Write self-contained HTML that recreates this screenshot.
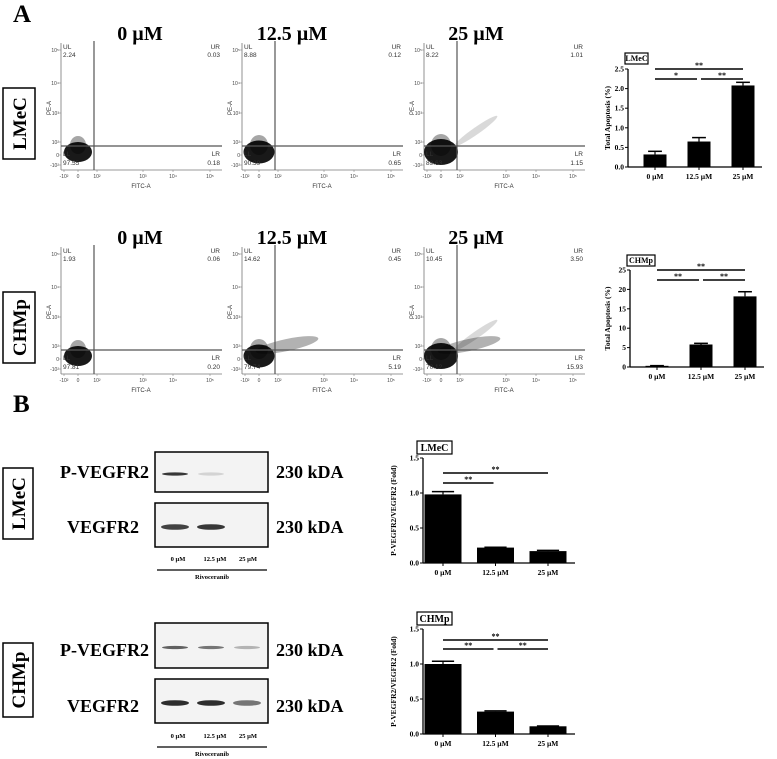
<!DOCTYPE html>
<html><head><meta charset="utf-8"><style>
html,body{margin:0;padding:0;background:#fff;width:777px;height:759px;overflow:hidden}
svg{display:block}
text{font-family:"Liberation Serif",serif}
.sans{font-family:"Liberation Sans",sans-serif}
</style></head><body>
<svg id="fig" width="777" height="759" viewBox="0 0 777 759" xmlns="http://www.w3.org/2000/svg">
<text x="13" y="22" font-size="25" font-weight="bold">A</text>
<text x="13" y="412" font-size="25" font-weight="bold">B</text>
</svg>
<script>
// ---------- data ----------
const concLabels = ["0 µM", "12.5 µM", "25 µM"];
const quadLMeC = [[2.24,0.03,97.55,0.18],[8.88,0.12,90.39,0.65],[8.22,1.01,89.63,1.15]];
const quadCHMp = [[1.93,0.06,97.81,0.20],[14.62,0.45,79.74,5.19],[10.45,3.50,70.12,15.93]];
const apopLMeC = [0.32, 0.65, 2.08];
const apopLMeCErr = [0.08, 0.10, 0.08];
const apopCHMp = [0.3, 5.8, 18.2];
const apopCHMpErr = [0.05, 0.3, 1.2];
const ticksApopLMeC = [0, 0.5, 1.0, 1.5, 2.0, 2.5];
const ticksApopCHMp = [0, 5, 10, 15, 20, 25];
const vegfLMeC = [0.98, 0.22, 0.17];
const vegfLMeCErr = [0.04, 0.005, 0.01];
const vegfCHMp = [1.0, 0.32, 0.11];
const vegfCHMpErr = [0.04, 0.01, 0.005];
const ticksVegf = [0, 0.5, 1.0, 1.5];
const sigApopLMeC = [[0,2,"**"],[0,1,"*"],[1,2,"**"]];
const sigApopCHMp = [[0,2,"**"],[0,1,"**"],[1,2,"**"]];
const sigVegfLMeC = [[0,2,"**"],[0,1,"**"]];
const sigVegfCHMp = [[0,2,"**"],[0,1,"**"],[1,2,"**"]];

const NS = "http://www.w3.org/2000/svg";
const svg = document.getElementById("fig");
function mk(tag, attrs, parent, txt){
  const e = document.createElementNS(NS, tag);
  for (const k in attrs) e.setAttribute(k, attrs[k]);
  if (txt !== undefined) e.textContent = txt;
  (parent||svg).appendChild(e);
  return e;
}

// ---------- flow plots ----------
const plotLefts = [61, 242, 424];
function flowPlot(L, T, q, col, rowName){
  const g = mk("g", {});
  
  
  const w = 161, h = 127;
  mk("line",{x1:L,y1:T,x2:L,y2:T+h,stroke:"#777","stroke-width":0.8},g);
  mk("line",{x1:L,y1:T+h,x2:L+w,y2:T+h,stroke:"#777","stroke-width":0.8},g);
  const yt = [["10⁵",7],["10⁴",40],["10³",70],["10²",99],["0",112],["-10²",122]];
  yt.forEach(t=>{ mk("text",{x:L-2,y:T+t[1]+2,"font-size":5,"text-anchor":"end",fill:"#444",class:"sans"},g,t[0]);
    mk("line",{x1:L-2,y1:T+t[1],x2:L,y2:T+t[1],stroke:"#777","stroke-width":0.5},g);});
  const xt = [["-10²",3],["0",17],["10²",36],["10³",82],["10⁴",112],["10⁵",149]];
  xt.forEach(t=>{ mk("text",{x:L+t[1],y:T+h+8,"font-size":5,"text-anchor":"middle",fill:"#444",class:"sans"},g,t[0]);
    mk("line",{x1:L+t[1],y1:T+h,x2:L+t[1],y2:T+h+2,stroke:"#777","stroke-width":0.5},g);});
  mk("text",{x:L+80,y:T+h+18,"font-size":6,"text-anchor":"middle",fill:"#333",class:"sans"},g,"FITC-A");
  mk("text",{x:0,y:0,"font-size":6,"text-anchor":"middle",fill:"#333",class:"sans",transform:`translate(${L-10},${T+65}) rotate(-90)`},g,"PE-A");
  if (q[3] > 3) mk("ellipse",{cx:L+45,cy:T+98,rx:32,ry:6,fill:"#000",opacity:0.3,transform:`rotate(-12 ${L+45} ${T+98})`},g);
  if (q[1] > 0.9) mk("ellipse",{cx:L+52,cy:T+88,rx:26,ry:3.5,fill:"#000",opacity:0.15,transform:`rotate(-35 ${L+52} ${T+88})`},g);
  mk("ellipse",{cx:L+17,cy:T+109,rx:14+col*1.5,ry:10+col*1.5,fill:"#000",opacity:0.9},g);
  mk("ellipse",{cx:L+17,cy:T+102,rx:8+col,ry:9+col,fill:"#000",opacity:0.35},g);
  mk("line",{x1:L+33,y1:T-2,x2:L+33,y2:T+h,stroke:"#555","stroke-width":1.2},g);
  mk("line",{x1:L,y1:T+103,x2:L+w,y2:T+103,stroke:"#555","stroke-width":1.2},g);
  const s = {"font-size":6.5,fill:"#333",class:"sans"};
  mk("text",Object.assign({x:L+2,y:T+6},s),g,"UL");
  mk("text",Object.assign({x:L+2,y:T+14},s),g,q[0].toFixed(2));
  mk("text",Object.assign({x:L+w-2,y:T+6,"text-anchor":"end"},s),g,"UR");
  mk("text",Object.assign({x:L+w-2,y:T+14,"text-anchor":"end"},s),g,q[1].toFixed(2));
  mk("text",Object.assign({x:L+2,y:T+113},s),g,"LL");
  mk("text",Object.assign({x:L+2,y:T+122},s),g,q[2].toFixed(2));
  mk("text",Object.assign({x:L+w-2,y:T+113,"text-anchor":"end"},s),g,"LR");
  mk("text",Object.assign({x:L+w-2,y:T+122,"text-anchor":"end"},s),g,q[3].toFixed(2));
}
const titleX = [140, 292, 476];
[[33,43,quadLMeC,"lmec"],[237,247,quadCHMp,"chmp"]].forEach(r=>{
  for (let i=0;i<3;i++){
    const t = mk("text",{x:titleX[i],y:r[0]+7,"font-size":20,"font-weight":"bold","text-anchor":"middle"},svg,concLabels[i]);
    
    
    flowPlot(plotLefts[i], r[1], r[2][i], i, r[3]);
  }
});

// ---------- row label boxes ----------
function rowBox(x,y,w,h,label,name){
  const g = mk("g",{});
  
  
  mk("rect",{x:x,y:y,width:w,height:h,fill:"#fff",stroke:"#000","stroke-width":1.5},g);
  mk("text",{x:0,y:0,"font-size":19,"font-weight":"bold","text-anchor":"middle",transform:`translate(${x+w/2+7},${y+h/2}) rotate(-90)`},g,label);
}
rowBox(3,88,32,71,"LMeC","row-label-lmec-a");
rowBox(3,292,32,71,"CHMp","row-label-chmp-a");
rowBox(3,468,30,71,"LMeC","row-label-lmec-b");
rowBox(3,643,30,74,"CHMp","row-label-chmp-b");

// ---------- bar charts ----------
function barChart(o){
  const g = mk("g",{});
  
  
  const max = o.ticks[o.ticks.length-1];
  const y = v => o.yb - (v/max)*(o.yb-o.yt);
  const x = i => o.x0 + o.off + i*o.step;
  mk("line",{x1:o.x0,y1:o.yt,x2:o.x0,y2:o.yb,stroke:"#000","stroke-width":1.3},g);
  mk("line",{x1:o.x0,y1:o.yb,x2:o.xe,y2:o.yb,stroke:"#000","stroke-width":1.3},g);
  o.ticks.forEach(t=>{
    mk("line",{x1:o.x0-3,y1:y(t),x2:o.x0,y2:y(t),stroke:"#000","stroke-width":1},g);
    mk("text",{x:o.x0-4,y:y(t)+2.5,"font-size":7.5,"font-weight":"bold","text-anchor":"end"},g,o.fmt(t));
  });
  o.vals.forEach((v,i)=>{
    const cx = x(i);
    const e = o.errs[i];
    mk("line",{x1:cx,y1:y(v),x2:cx,y2:y(v+e),stroke:"#000","stroke-width":1.2},g);
    mk("line",{x1:cx-o.bw*0.3,y1:y(v+e),x2:cx+o.bw*0.3,y2:y(v+e),stroke:"#000","stroke-width":1.5},g);
    const b = mk("rect",{x:cx-o.bw/2,y:y(v),width:o.bw,height:o.yb-y(v),fill:"#000"},g);
    
    
    mk("line",{x1:cx,y1:o.yb,x2:cx,y2:o.yb+3,stroke:"#000","stroke-width":1},g);
    mk("text",{x:cx,y:o.yb+12,"font-size":7.5,"font-weight":"bold","text-anchor":"middle"},g,concLabels[i]);
  });
  o.sig.forEach((s,k)=>{
    const ly = o.sy[k];
    const x1 = x(s[0]) + (s[0]>0 ? 2 : 0), x2 = x(s[1]) - (k>0 && s[1]===1 ? 2 : 0);
    mk("line",{x1:x1,y1:ly,x2:x2,y2:ly,stroke:"#000","stroke-width":1.5},g);
    mk("text",{x:(x1+x2)/2,y:ly-1,"font-size":8,"font-weight":"bold","text-anchor":"middle"},g,s[2]);
  });
  mk("text",{x:0,y:0,"font-size":7.5,"font-weight":"bold","text-anchor":"middle",transform:`translate(${o.tx},${(o.yt+o.yb)/2}) rotate(-90)`},g,o.title);
  mk("rect",{x:o.bx,y:o.by,width:o.bwid,height:o.bh,fill:"#fff",stroke:"#000","stroke-width":1.2},g);
  mk("text",{x:o.bx+o.bwid/2,y:o.by+o.bh-3,"font-size":o.bh-3,"font-weight":"bold","text-anchor":"middle"},g,o.label);
}
const f1 = t=>t.toFixed(1), f0 = t=>String(t);
barChart({name:"apoptosis-chart-lmec",x0:628,xe:762,yt:69,yb:167,off:27,step:44,bw:23,ticks:ticksApopLMeC,fmt:f1,vals:apopLMeC,errs:apopLMeCErr,sig:sigApopLMeC,sy:[69,79,79],title:"Total Apoptosis (%)",tx:610,bx:625,by:53,bwid:23,bh:11,label:"LMeC"});
barChart({name:"apoptosis-chart-chmp",x0:630,xe:764,yt:270,yb:367,off:27,step:44,bw:23,ticks:ticksApopCHMp,fmt:f0,vals:apopCHMp,errs:apopCHMpErr,sig:sigApopCHMp,sy:[270,280,280],title:"Total Apoptosis (%)",tx:610,bx:627,by:255,bwid:28,bh:11,label:"CHMp"});
barChart({name:"vegfr2-chart-lmec",x0:423,xe:575,yt:458,yb:563,off:20,step:52.5,bw:37,ticks:ticksVegf,fmt:f1,vals:vegfLMeC,errs:vegfLMeCErr,sig:sigVegfLMeC,sy:[473,483],title:"P-VEGFR2/VEGFR2 (Fold)",tx:396,bx:417,by:441,bwid:35,bh:13,label:"LMeC"});
barChart({name:"vegfr2-chart-chmp",x0:423,xe:575,yt:629,yb:734,off:20,step:52.5,bw:37,ticks:ticksVegf,fmt:f1,vals:vegfCHMp,errs:vegfCHMpErr,sig:sigVegfCHMp,sy:[640,649,649],title:"P-VEGFR2/VEGFR2 (Fold)",tx:396,bx:417,by:612,bwid:35,bh:13,label:"CHMp"});

// ---------- western blots ----------
function blot(name, y1, y2, bands1, bands2, lab1y, lab2y, laneY){
  const g = mk("g",{});
  
  
  mk("rect",{x:155,y:y1[0],width:113,height:y1[1]-y1[0],fill:"#f3f3f3",stroke:"#000","stroke-width":1.5},g);
  mk("rect",{x:155,y:y2[0],width:113,height:y2[1]-y2[0],fill:"#f3f3f3",stroke:"#000","stroke-width":1.5},g);
  const lanes = [175, 211, 247];
  bands1.forEach((b,i)=>{ if(b>0) mk("ellipse",{cx:lanes[i],cy:(y1[0]+y1[1])/2+2,rx:13,ry:1.6,fill:"#222",opacity:b},g); });
  bands2.forEach((b,i)=>{ if(b>0) mk("ellipse",{cx:lanes[i],cy:(y2[0]+y2[1])/2+2,rx:14,ry:2.8,fill:"#222",opacity:b},g); });
  mk("text",{x:149,y:lab1y+6,"font-size":18,"font-weight":"bold","text-anchor":"end"},g,"P-VEGFR2");
  mk("text",{x:139,y:lab2y+6,"font-size":18,"font-weight":"bold","text-anchor":"end"},g,"VEGFR2");
  mk("text",{x:276,y:lab1y+6,"font-size":18,"font-weight":"bold"},g,"230 kDA");
  mk("text",{x:276,y:lab2y+6,"font-size":18,"font-weight":"bold"},g,"230 kDA");
  lanes.forEach((lx,i)=>mk("text",{x:[178,215,248][i],y:laneY,"font-size":6.5,"font-weight":"bold","text-anchor":"middle"},g,concLabels[i]));
  mk("line",{x1:157,y1:laneY+9,x2:267,y2:laneY+9,stroke:"#000","stroke-width":1.3},g);
  mk("text",{x:212,y:laneY+18,"font-size":6.5,"font-weight":"bold","text-anchor":"middle"},g,"Rivoceranib");
}
blot("western-blot-lmec",[452,492],[503,547],[0.9,0.15,0],[0.85,0.9,0],472,527,561);
blot("western-blot-chmp",[623,668],[679,723],[0.7,0.6,0.3],[0.95,0.95,0.6],650,706,738);
</script>
</body></html>
